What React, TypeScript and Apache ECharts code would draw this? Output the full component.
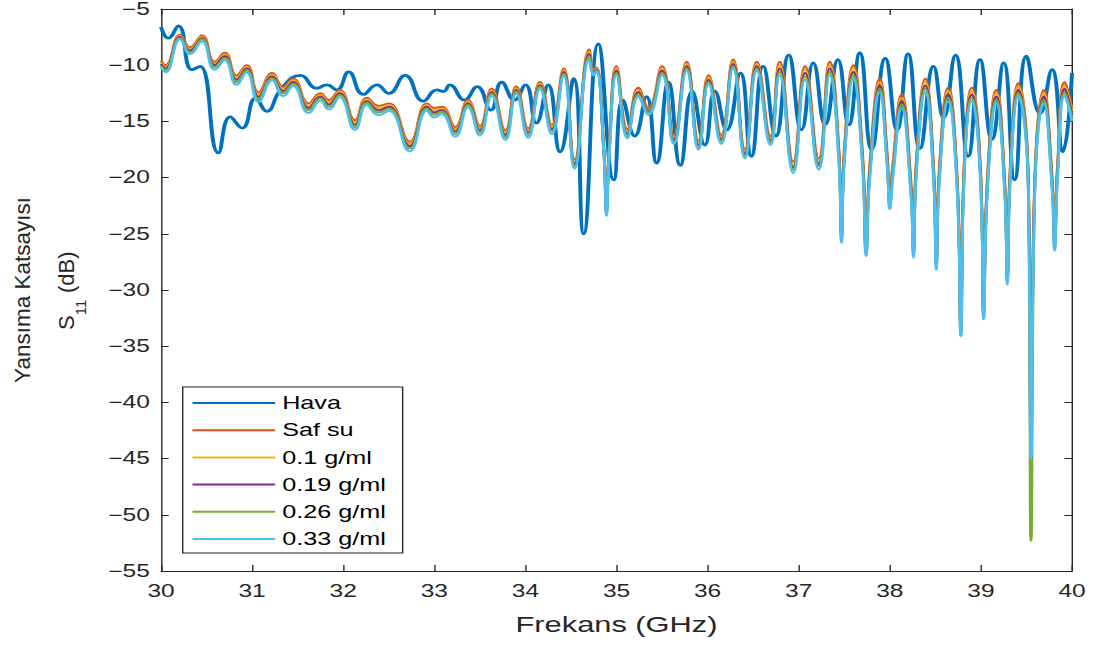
import { useEffect, useRef } from 'react';
import * as echarts from 'echarts';

// ---------- data ----------
const SERIES_NAMES = ['Hava', 'Saf su', '0.1 g/ml', '0.19 g/ml', '0.26 g/ml', '0.33 g/ml'];
const COLORS = ['#0072BD', '#D95319', '#EDB120', '#7E2F8E', '#77AC30', '#4DBEEE'];

const HAVA_FREQ = [
  30.00, 30.08, 30.19, 30.34, 30.43, 30.63, 30.76, 30.89, 31.04, 31.16,
  31.32, 31.53, 31.71, 31.82, 31.93, 32.06, 32.22, 32.37, 32.50, 32.68,
  32.88, 33.03, 33.10, 33.17, 33.33, 33.47, 33.62, 33.74, 33.88, 34.00,
  34.12, 34.25, 34.38, 34.53, 34.64, 34.80, 34.97, 35.07, 35.20, 35.33,
  35.44, 35.57, 35.70, 35.83, 35.97, 36.08, 36.21, 36.36, 36.48, 36.61,
  36.75, 36.89, 37.03, 37.16, 37.29, 37.43, 37.55, 37.67, 37.80, 37.95,
  38.08, 38.20, 38.33, 38.48, 38.59, 38.72, 38.86, 38.99, 39.12, 39.25,
  39.37, 39.50, 39.65, 39.78, 39.90, 40.00,
];
const HAVA = [
  -6.6, -7.6, -6.5, -10.4, -10.1, -17.8, -14.6, -15.6, -12.9, -14.1,
  -12.1, -10.9, -12.05, -11.75, -12.2, -10.6, -12.6, -11.75, -12.5, -10.9,
  -13.2, -12.2, -12.35, -11.75, -13.1, -11.9, -14.0, -11.5, -13.1, -11.75,
  -15.15, -11.75, -17.7, -11.2, -25.0, -8.1, -20.2, -13.1, -16.3, -12.8,
  -18.7, -11.5, -18.9, -12.3, -17.1, -12.3, -15.75, -10.7, -18.1, -10.1,
  -16.3, -9.1, -15.75, -9.8, -15.3, -9.5, -15.3, -8.9, -17.5, -9.4,
  -15.75, -9.0, -17.4, -10.1, -14.7, -9.1, -18.1, -9.5, -16.6, -9.8,
  -20.2, -9.2, -14.3, -10.4, -17.7, -10.7,
];

const SOL_FREQ = [
  30.00, 30.05, 30.21, 30.32, 30.45, 30.59, 30.70, 30.83, 30.94, 31.07,
  31.22, 31.34, 31.45, 31.62, 31.75, 31.84, 31.96, 32.13, 32.26, 32.39,
  32.50, 32.73, 32.92, 33.00, 33.08, 33.23, 33.37, 33.50, 33.63, 33.78,
  33.90, 34.03, 34.16, 34.29, 34.42, 34.54,
  34.70, 34.75, 34.78, 34.86, 34.89, 34.92, 35.00, 35.12, 35.24, 35.35,
  35.50, 35.63, 35.77, 35.90, 36.01, 36.15, 36.28, 36.41, 36.54, 36.69,
  36.79, 36.94, 37.07, 37.22, 37.34, 37.44, 37.47, 37.50, 37.60, 37.70,
  37.74, 37.78, 37.89, 37.97, 38.00, 38.03, 38.13, 38.23, 38.26, 38.29,
  38.39, 38.48, 38.51, 38.54, 38.64, 38.74, 38.78, 38.81, 38.90, 39.00,
  39.03, 39.07, 39.17, 39.26, 39.29, 39.32, 39.41, 39.52, 39.55, 39.59,
  39.69, 39.78, 39.81, 39.84, 39.92, 40.00,
];
const SAF_SU = [
  -9.6, -10.0, -7.3, -8.4, -7.35, -9.7, -8.9, -10.9, -10.0, -12.4,
  -10.7, -11.9, -11.2, -13.4, -12.5, -13.1, -12.2, -14.9, -12.9, -13.6,
  -13.4, -16.8, -13.4, -13.8, -13.7, -15.5, -13.1, -15.4, -12.1, -15.8,
  -11.9, -15.6, -11.5, -15.3, -10.3, -18.4,
  -8.6, -10.4, -10.2, -17.3, -22.4, -17.2, -10.1, -15.7, -12.0, -13.8,
  -10.1, -16.2, -9.7, -16.7, -10.9, -16.2, -9.5, -17.5, -9.7, -16.3,
  -9.7, -18.6, -10.1, -18.3, -9.7, -17.3, -24.6, -17.6, -10.0, -17.7,
  -25.8, -18.9, -11.2, -17.7, -21.8, -19.1, -12.6, -20.1, -25.9, -18.7,
  -11.2, -18.9, -27.0, -19.7, -12.0, -20.1, -32.5, -20.1, -12.0, -20.0,
  -31.2, -20.2, -12.2, -20.0, -28.3, -19.4, -11.6, -19.9, -41.0, -20.5,
  -12.2, -19.7, -25.3, -19.0, -11.5, -13.8,
];
const G010 = [
  -9.75, -10.15, -7.4, -8.55, -7.5, -9.85, -9.05, -11.1, -10.15, -12.6,
  -10.85, -12.1, -11.35, -13.6, -12.65, -13.3, -12.35, -15.1, -13.05, -13.8,
  -13.55, -17.0, -13.55, -14.0, -13.85, -15.7, -13.25, -15.6, -12.25, -16.0,
  -12.05, -15.8, -11.65, -15.5, -10.45, -18.6,
  -8.8, -10.5, -10.3, -17.4, -22.7, -17.4, -10.3, -15.9, -12.2, -14.0,
  -10.3, -16.4, -9.9, -16.9, -11.1, -16.4, -9.7, -17.7, -9.9, -16.5,
  -10.0, -18.9, -10.4, -18.6, -10.0, -17.6, -24.9, -17.9, -10.3, -18.0,
  -26.1, -19.2, -11.5, -18.0, -22.1, -19.4, -12.9, -20.4, -26.2, -19.0,
  -11.5, -19.2, -27.3, -20.0, -12.3, -20.4, -33.0, -20.4, -12.3, -20.3,
  -31.6, -20.5, -12.5, -20.3, -28.6, -19.7, -11.9, -20.2, -42.0, -20.8,
  -12.5, -20.0, -25.6, -19.3, -11.8, -14.1,
];
const G019 = [
  -9.9, -10.3, -7.5, -8.7, -7.6, -10.0, -9.2, -11.3, -10.3, -12.8,
  -11.0, -12.3, -11.5, -13.8, -12.8, -13.5, -12.5, -15.3, -13.2, -14.0,
  -13.7, -17.2, -13.7, -14.2, -14.0, -15.9, -13.4, -15.8, -12.4, -16.2,
  -12.2, -16.0, -11.8, -15.7, -10.6, -18.8,
  -9.0, -10.6, -10.4, -17.5, -22.9, -17.6, -10.5, -16.1, -12.4, -14.1,
  -10.5, -16.6, -10.1, -17.1, -11.3, -16.6, -9.9, -17.9, -10.1, -16.7,
  -10.3, -19.1, -10.7, -18.8, -10.3, -17.9, -25.2, -18.2, -10.6, -18.3,
  -26.4, -19.5, -11.8, -18.3, -22.3, -19.7, -13.2, -20.7, -26.5, -19.3,
  -11.8, -19.5, -27.6, -20.3, -12.6, -20.7, -33.4, -20.7, -12.6, -20.6,
  -32.0, -20.8, -12.8, -20.6, -28.9, -20.0, -12.2, -20.5, -43.0, -21.1,
  -12.8, -20.3, -25.9, -19.6, -12.1, -14.4,
];
const G026 = [
  -10.05, -10.45, -7.6, -8.85, -7.7, -10.15, -9.35, -11.5, -10.45, -13.0,
  -11.15, -12.5, -11.65, -14.0, -12.95, -13.7, -12.65, -15.5, -13.35, -14.2,
  -13.85, -17.4, -13.85, -14.4, -14.15, -16.1, -13.55, -16.0, -12.55, -16.4,
  -12.35, -16.2, -11.95, -15.9, -10.75, -19.0,
  -9.2, -10.7, -10.5, -17.6, -23.1, -17.8, -10.7, -16.3, -12.6, -14.2,
  -10.7, -16.8, -10.3, -17.3, -11.5, -16.8, -10.1, -18.1, -10.3, -16.9,
  -10.6, -19.3, -11.0, -19.0, -10.6, -18.2, -25.5, -18.5, -10.9, -18.6,
  -26.7, -19.8, -12.1, -18.6, -22.5, -20.0, -13.5, -21.0, -26.8, -19.6,
  -12.1, -19.8, -27.9, -20.6, -12.9, -21.0, -33.8, -21.0, -12.9, -20.9,
  -32.3, -21.1, -13.1, -20.9, -29.2, -20.3, -12.5, -20.8, -52.3, -21.4,
  -13.1, -20.6, -26.2, -19.9, -12.4, -14.7,
];
const G033 = [
  -10.2, -10.6, -7.7, -9.0, -7.9, -10.4, -9.55, -11.75, -10.65, -13.25,
  -11.35, -12.75, -11.85, -14.25, -13.15, -13.95, -12.85, -15.75, -13.55, -14.45,
  -14.05, -17.65, -14.05, -14.65, -14.35, -16.35, -13.75, -16.25, -12.75, -16.65,
  -12.55, -16.45, -12.15, -16.15, -10.95, -19.2,
  -9.5, -10.9, -10.5, -17.6, -23.4, -18.0, -10.9, -16.5, -12.8, -14.4,
  -10.9, -17.0, -10.5, -17.5, -11.7, -17.0, -10.3, -18.3, -10.5, -17.1,
  -10.9, -19.6, -11.3, -19.3, -10.9, -18.5, -25.8, -18.8, -11.2, -18.9,
  -27.0, -20.1, -12.4, -18.9, -22.8, -20.3, -13.8, -21.3, -27.1, -19.9,
  -12.4, -20.1, -28.2, -20.9, -13.2, -21.3, -34.1, -21.3, -13.2, -21.2,
  -32.6, -21.4, -13.4, -21.2, -29.5, -20.6, -12.8, -21.1, -45.0, -21.7,
  -13.4, -20.9, -26.5, -20.2, -12.7, -15.0,
];

const X_MIN = 30, X_MAX = 40, X_STEP = 1;
const Y_MIN = -55, Y_MAX = -5, Y_STEP = 5;

// ---------- layout ----------
const PRE_W = 781;
const H = 646;
const S = 1094 / PRE_W; // horizontal stretch of the reference picture
const FONT = '"Liberation Sans", Arial, Helvetica, sans-serif';
const AX = '#262626';

const zip = (xs: number[], ys: number[]) => xs.map((x, i) => [x, ys[i]]);

export default function App() {
  const ref = useRef<HTMLDivElement>(null);
  useEffect(() => {
    if (!ref.current) return;
    const chart = echarts.init(ref.current, undefined, { renderer: 'svg' });
    const minus = (v: number) => (v < 0 ? '\u2212' + Math.abs(v) : String(v));
    const axisLine = { show: true, onZero: false, lineStyle: { color: AX, width: 1 } };
    const xCommon = {
      type: 'value', min: X_MIN, max: X_MAX, interval: X_STEP,
      axisLine, splitLine: { show: false },
      axisTick: { show: true, inside: true, length: 6, lineStyle: { color: AX } },
    };
    const yCommon = {
      type: 'value', min: Y_MIN, max: Y_MAX, interval: Y_STEP,
      axisLine, splitLine: { show: false },
      axisTick: { show: true, inside: true, length: 5.5, lineStyle: { color: AX } },
    };
    const datas = [
      zip(HAVA_FREQ, HAVA),
      zip(SOL_FREQ, SAF_SU),
      zip(SOL_FREQ, G010),
      zip(SOL_FREQ, G019),
      zip(SOL_FREQ, G026),
      zip(SOL_FREQ, G033),
    ];
    const series = datas.map((d, i) => ({
      name: SERIES_NAMES[i],
      type: 'line',
      data: d,
      symbol: 'none',
      showSymbol: false,
      smooth: 0.5,
      lineStyle: { color: COLORS[i], width: i === 0 ? 2.8 : 2.0 },
      itemStyle: { color: COLORS[i] },
    }));
    const yl = (text: string, x: number, y: number, size: number) => ({
      type: 'text', x, y,
      style: { text, fill: AX, font: `${size}px ${FONT}`, align: 'left', verticalAlign: 'middle' },
    });
    chart.setOption({
      animation: false,
      backgroundColor: '#ffffff',
      grid: { left: 161 / S, right: PRE_W - 1072 / S, top: 9, bottom: 75 },
      xAxis: [
        {
          ...xCommon, position: 'bottom',
          axisLabel: { fontSize: 17.5, color: AX, fontFamily: FONT, margin: 11 },
          name: 'Frekans (GHz)', nameLocation: 'middle', nameGap: 43,
          nameTextStyle: { fontSize: 22, color: AX, fontFamily: FONT },
        },
        { ...xCommon, position: 'top', axisLabel: { show: false } },
      ],
      yAxis: [
        {
          ...yCommon, position: 'left',
          axisLabel: { fontSize: 17.5, color: AX, fontFamily: FONT, margin: 8, formatter: minus },
        },
        { ...yCommon, position: 'right', axisLabel: { show: false } },
      ],
      legend: {
        orient: 'vertical',
        left: 182.7 / S,
        top: 387,
        padding: [7, 12, 5, 6],
        itemWidth: 59,
        itemHeight: 18,
        itemGap: 9.2,
        borderColor: AX,
        borderWidth: 1,
        borderRadius: 0,
        backgroundColor: '#ffffff',
        itemStyle: { opacity: 0 },
        textStyle: { fontSize: 18, color: '#000', fontFamily: FONT, lineHeight: 18 },
        data: SERIES_NAMES,
      },
      graphic: [
        {
          type: 'group',
          x: 44 / S,
          y: 290,
          rotation: Math.PI / 2,
          scaleY: 1 / S,
          children: [
            {
              type: 'text', x: 0, y: -22,
              style: { text: 'Yansıma Katsayısı', fill: AX, font: `22.5px ${FONT}`, align: 'center', verticalAlign: 'middle' },
            },
            yl('S', -40, 22, 22),
            yl('11', -25.3, 36, 15),
            yl('(dB)', -3, 22, 22),
          ],
        },
      ],
      series,
    });
    return () => chart.dispose();
  }, []);
  return (
    <div
      ref={ref}
      style={{
        position: 'fixed', left: 0, top: 0, width: PRE_W, height: H,
        transform: `scaleX(${S})`, transformOrigin: '0 0', background: '#fff',
      }}
    />
  );
}
